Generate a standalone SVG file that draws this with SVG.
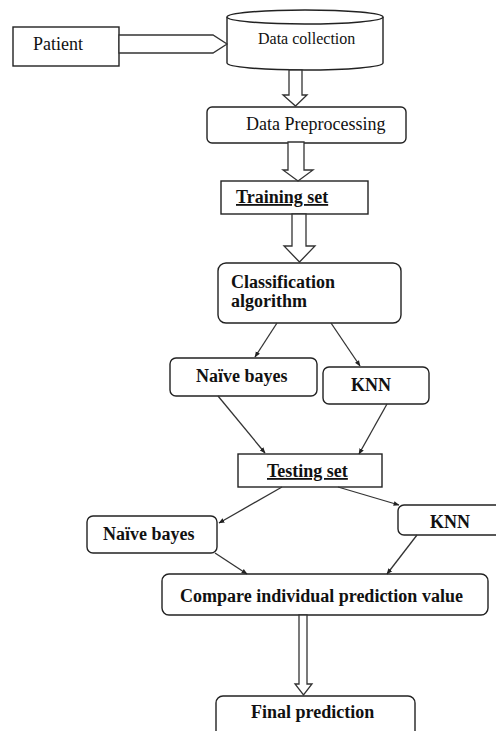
<svg xmlns="http://www.w3.org/2000/svg" width="496" height="731" viewBox="0 0 496 731">
<defs>
<style>
.box{fill:#fff;stroke:#222;stroke-width:1.4}
.blk{fill:#fff;stroke:#333;stroke-width:1.3;stroke-linejoin:miter}
.ln{fill:none;stroke:#333;stroke-width:1.3}
.t{font-family:"Liberation Serif","Times New Roman",serif;fill:#111}
.b{font-family:"Liberation Serif","Times New Roman",serif;font-weight:bold;font-size:18px;fill:#111}
</style>
<marker id="ah" viewBox="0 0 10 10" refX="9" refY="5" markerWidth="6" markerHeight="6" orient="auto" markerUnits="userSpaceOnUse">
<path d="M0,1 L10,5 L0,9 z" fill="#222"/>
</marker>
</defs>
<rect width="496" height="731" fill="#fff"/>

<g id="patient">
<rect class="box" x="13" y="27" width="106" height="39"/>
<text class="t" x="33" y="50" font-size="18">Patient</text>
</g>

<g id="data-collection">
<path class="box" d="M227,17 L227,63 A78,7 0 0 0 383,63 L383,17"/>
<ellipse class="box" cx="305" cy="17" rx="78" ry="7"/>
<text class="t" x="258" y="44" font-size="16">Data collection</text>
</g>

<g id="data-preprocessing">
<rect class="box" x="207" y="107" width="199" height="36" rx="5"/>
<text class="t" x="246" y="130" font-size="18">Data Preprocessing</text>
</g>

<g id="training-set">
<rect class="box" x="221" y="181" width="147" height="33"/>
<text class="b" x="236" y="203" text-decoration="underline">Training set</text>
</g>

<g id="classification">
<rect class="box" x="218" y="263" width="183" height="60" rx="8"/>
<text class="b" x="231" y="288">Classification</text>
<text class="b" x="231" y="307">algorithm</text>
</g>

<g id="naive-bayes-1">
<rect class="box" x="170" y="358" width="147" height="38" rx="6"/>
<text class="b" x="196" y="382">Naïve bayes</text>
</g>

<g id="knn-1">
<rect class="box" x="323" y="367" width="106" height="37" rx="6"/>
<text class="b" x="351" y="391">KNN</text>
</g>

<g id="testing-set">
<rect class="box" x="238" y="454" width="144" height="33"/>
<text class="b" x="267" y="477" text-decoration="underline">Testing set</text>
</g>

<g id="naive-bayes-2">
<rect class="box" x="87" y="516" width="130" height="37" rx="6"/>
<text class="b" x="103" y="540">Naïve bayes</text>
</g>

<g id="knn-2">
<rect class="box" x="398" y="505" width="104" height="30" rx="6"/>
<text class="b" x="430" y="528">KNN</text>
</g>

<g id="compare">
<rect class="box" x="162" y="574" width="326" height="41" rx="7"/>
<text class="b" x="180" y="602">Compare individual prediction value</text>
</g>

<g id="final-prediction">
<rect class="box" x="216" y="696" width="199" height="45" rx="7"/>
<text class="b" x="251" y="718">Final prediction</text>
</g>

<g id="connectors">
<polygon class="blk" points="119,35 213,35 227,44 213,53 119,53"/>
<polygon class="blk" points="289,70 302,70 302,95 307,95 295.5,106 283,95 289,95"/>
<polygon class="blk" points="288,142 304,142 304,170 313,170 298,181 283,170 288,170"/>
<polygon class="blk" points="292,214 306,214 306,246 315,246 299.5,262 284,246 292,246"/>
<polygon class="blk" points="299,615 307,615 307,684 312,684 303.5,695 295,684 299,684"/>
<line class="ln" x1="277" y1="323" x2="255" y2="357" marker-end="url(#ah)"/>
<line class="ln" x1="331" y1="323" x2="360" y2="366" marker-end="url(#ah)"/>
<line class="ln" x1="218" y1="396" x2="265" y2="453" marker-end="url(#ah)"/>
<line class="ln" x1="387" y1="404" x2="359" y2="454" marker-end="url(#ah)"/>
<line class="ln" x1="282" y1="487" x2="219" y2="523" marker-end="url(#ah)"/>
<line class="ln" x1="338" y1="487" x2="399" y2="505" marker-end="url(#ah)"/>
<line class="ln" x1="215" y1="553" x2="247" y2="574" marker-end="url(#ah)"/>
<line class="ln" x1="417" y1="535" x2="387" y2="574" marker-end="url(#ah)"/>
</g>
</svg>
